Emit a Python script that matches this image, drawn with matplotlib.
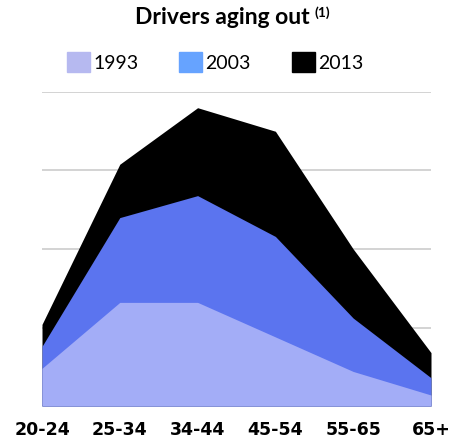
import matplotlib.pyplot as plt
from matplotlib.patches import Patch

age_groups = ["20-24", "25-34", "34-44", "45-54", "55-65", "65+"]
drivers_1993 = [12, 33, 33, 22, 11, 3.5]
drivers_2003 = [19, 60, 67, 54, 28, 9]
drivers_2013 = [26, 77, 95, 87.5, 50, 17]

c1993 = "#a3adf7"
c2003 = "#5b74ef"
c2013 = "#000000"

fig = plt.figure(figsize=(4.5, 4.4), dpi=100)
ax = fig.add_axes([42 / 450, 34 / 440, 389 / 450, 314 / 440])

x = list(range(len(age_groups)))
ax.fill_between(x, 0, drivers_2013, color=c2013, lw=0, zorder=2)
ax.fill_between(x, 0, drivers_2003, color=c2003, lw=0, zorder=3)
ax.fill_between(x, 0, drivers_1993, color=c1993, lw=0, zorder=4)

ax.set_xlim(0, 5)
ax.set_ylim(0, 100)
ax.set_yticks([0, 25, 50, 75, 100])
ax.yaxis.grid(True, color="#cccccc", lw=1.2, zorder=1)
ax.set_axisbelow(True)
ax.tick_params(axis="y", length=0, labelleft=False)
ax.set_xticks(x)
ax.set_xticklabels(age_groups, fontsize=12.5, fontweight="bold", family="DejaVu Sans")
ax.tick_params(axis="x", length=0, pad=11)
for s in ax.spines.values():
    s.set_visible(False)

# title with the footnote marker
t = fig.text(222 / 450, 1 - 18 / 440, "Drivers aging out", ha="center", va="center",
             fontsize=16.5, fontweight="bold", family="Lato")
ax.annotate("(1)", xy=(1, 0.75), xycoords=t, xytext=(4, 0), textcoords="offset points",
            fontsize=10, fontweight="bold", family="Lato", va="center")

handles = [Patch(color="#b6b9f0", label="1993"),
           Patch(color="#66a3ff", label="2003"),
           Patch(color=c2013, label="2013")]
fig.legend(handles=handles, loc="center", bbox_to_anchor=(215 / 450, 1 - 62 / 440), ncol=3,
           frameon=False, handlelength=1.2, handleheight=1.2, handletextpad=0.15,
           columnspacing=2.1, prop={"family": "Lato", "size": 14})

fig.savefig("out.png", dpi=100)
